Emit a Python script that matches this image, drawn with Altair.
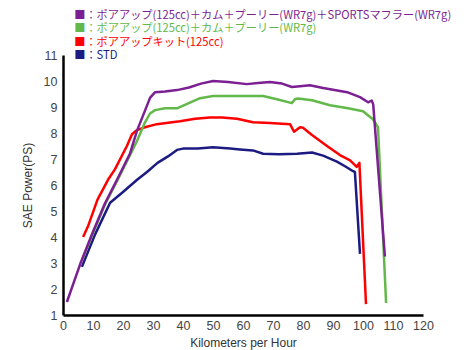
import altair as alt
import pandas as pd

names = [
    "ポアアップ(125cc)＋カム＋プーリー(WR7g)＋SPORTSマフラー(WR7g)",
    "ポアアップ(125cc)＋カム＋プーリー(WR7g)",
    "ポアアップキット(125cc)",
    "STD",
]
colors = ["#7b1f93", "#62b94a", "#ff0000", "#1b1b82"]

sports_x = [1.3, 5.7, 10, 14, 18, 22.3, 24.7, 27.3, 29, 30.7, 34, 38, 42, 46, 50, 55, 61.3, 65, 69, 73,
            76.3, 79, 82.3, 86.7, 90.5, 94.7, 99, 101.7, 102.9, 103.4, 107.3]
sports_y = [1.5, 2.95, 4.2, 5.3, 6.2, 7.2, 8.1, 8.85, 9.35, 9.57, 9.6, 9.65, 9.75, 9.9, 10.0, 9.96, 9.88, 9.92, 9.96, 9.9,
            9.77, 9.8, 9.84, 9.73, 9.65, 9.57, 9.38, 9.18, 9.25, 9.1, 3.25]

cam_x = [6.5, 10, 14, 18, 23, 24.7, 27.3, 29, 30.7, 34, 38, 41, 45.7, 50, 59, 66.7, 71.3, 76.3, 77.3, 78.3,
         83, 89, 95, 100, 103.3, 105, 107.7]
cam_y = [3.15, 4.15, 5.25, 6.15, 7.3, 7.7, 8.4, 8.75, 8.88, 8.95, 8.95, 9.1, 9.34, 9.42, 9.42, 9.42, 9.3, 9.15, 9.3, 9.33,
         9.26, 9.07, 8.95, 8.84, 8.53, 8.22, 1.46]

kit_x = [6.7, 8.3, 11.5, 15, 17.3, 21.3, 23, 24.5, 27.3, 31.3, 35.7, 39, 44, 49, 53, 58, 63.3, 69, 75.7, 77,
         79, 80, 83, 88, 92.3, 95.7, 97.9, 98.8, 101]
kit_y = [4.0, 4.4, 5.44, 6.2, 6.6, 7.5, 7.95, 8.1, 8.22, 8.34, 8.4, 8.45, 8.55, 8.6, 8.6, 8.55, 8.41, 8.38, 8.34, 8.05,
         8.22, 8.2, 7.92, 7.5, 7.15, 6.95, 6.7, 6.85, 1.42]

std_x = [6.3, 10.7, 15.7, 19.7, 24.7, 28, 31.5, 35, 38, 40, 45, 50, 55.7, 59, 63.3, 66.7, 72, 78, 83, 86.7,
         91.3, 94, 96.7, 97.3, 99]
std_y = [2.85, 4.1, 5.32, 5.7, 6.2, 6.5, 6.85, 7.1, 7.35, 7.4, 7.4, 7.45, 7.4, 7.37, 7.33, 7.2, 7.18, 7.2, 7.25, 7.13,
         6.9, 6.72, 6.53, 6.5, 3.35]

x_ticks = list(range(0, 121, 10))
y_ticks = list(range(1, 12))

frames = []
for name, xs, ys in [(names[3], std_x, std_y), (names[2], kit_x, kit_y),
                     (names[1], cam_x, cam_y), (names[0], sports_x, sports_y)]:
    frames.append(pd.DataFrame({"series": name, "kmh": xs, "ps": ys}))
df = pd.concat(frames, ignore_index=True)

cjk = "Noto Sans CJK JP"
latin = "Liberation Sans"

chart = alt.Chart(df).mark_line(strokeWidth=2.5, strokeJoin="round").encode(
    x=alt.X("kmh:Q", scale=alt.Scale(domain=[0, 120], nice=False),
            axis=alt.Axis(values=x_ticks, title="Kilometers per Hour", labelPadding=4,
                          titlePadding=6, labelOverlap=False, labelFlush=False)),
    y=alt.Y("ps:Q", scale=alt.Scale(domain=[1, 11], nice=False, zero=False),
            axis=alt.Axis(values=y_ticks, title="SAE Power(PS)", labelPadding=6, titlePadding=9,
                          labelOverlap=False, labelFlush=False)),
    color=alt.Color("series:N", sort=names,
                    scale=alt.Scale(domain=names, range=colors),
                    legend=alt.Legend(title=None, orient="none", legendX=0, legendY=-45,
                                      symbolSize=0, symbolOpacity=0, symbolStrokeWidth=0,
                                      labelExpr="'■：' + datum.label",
                                      labelColor={"expr": "scale('color', datum.value)"},
                                      labelFont=cjk, labelFontSize=11.2, labelLimit=1000,
                                      rowPadding=1.6, labelOffset=0, padding=0)),
).properties(
    width=360, height=260,
    autosize=alt.AutoSizeParams(type="none"),
    padding={"left": 63, "top": 55, "right": 44, "bottom": 35},
).configure_axis(
    domainColor="black", domainWidth=2.5, ticks=False, grid=False,
    labelColor="#444", labelFont=latin, labelFontSize=12.5,
    titleColor="#333", titleFont=latin, titleFontSize=12, titleFontWeight="normal",
).configure_view(stroke=None)

chart.save("out.html", embed_options={"renderer": "svg", "actions": False})
